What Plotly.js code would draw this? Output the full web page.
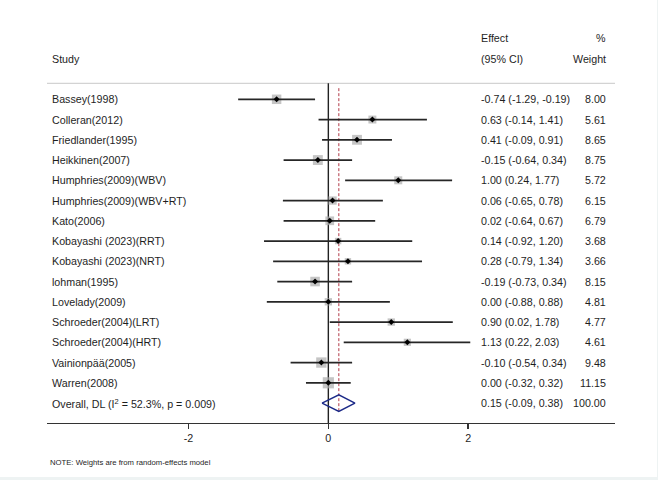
<!DOCTYPE html>
<html>
<head>
<meta charset="utf-8">
<script src="https://cdn.plot.ly/plotly-3.0.1.min.js"></script>
<style>
  html, body { margin: 0; padding: 0; background: #eef3f3; }
  #chart { width: 657px; height: 477px; background: #ffffff; }
</style>
</head>
<body>
<div id="chart"></div>
<script>
// Studies in the meta-analysis (top to bottom)
const studies = [
  "Bassey(1998)", "Colleran(2012)", "Friedlander(1995)", "Heikkinen(2007)",
  "Humphries(2009)(WBV)", "Humphries(2009)(WBV+RT)", "Kato(2006)",
  "Kobayashi (2023)(RRT)", "Kobayashi (2023)(NRT)", "lohman(1995)",
  "Lovelady(2009)", "Schroeder(2004)(LRT)", "Schroeder(2004)(HRT)",
  "Vainionpää(2005)", "Warren(2008)"
];
// Effect size and 95% CI bounds
const effect = [-0.74, 0.63, 0.41, -0.15, 1.00, 0.06, 0.02, 0.14, 0.28, -0.19, 0.00, 0.90, 1.13, -0.10, 0.00];
const ciLow  = [-1.29, -0.14, -0.09, -0.64, 0.24, -0.65, -0.64, -0.92, -0.79, -0.73, -0.88, 0.02, 0.22, -0.54, -0.32];
const ciHigh = [-0.19, 1.41, 0.91, 0.34, 1.77, 0.78, 0.67, 1.20, 1.34, 0.34, 0.88, 1.78, 2.03, 0.34, 0.32];
// Random-effects weights (%)
const weight = [8.00, 5.61, 8.65, 8.75, 5.72, 6.15, 6.79, 3.68, 3.66, 8.15, 4.81, 4.77, 4.61, 9.48, 11.15];

// Pooled estimate
const overallLabel = "Overall, DL (I<sup>2</sup> = 52.3%, p = 0.009)";
const overallEffect = 0.15;
const overallLow = -0.09;
const overallHigh = 0.38;
const overallWeight = 100.00;

// Axis ticks
const tickValues = [-2, 0, 2];
const tickLabels = ["-2", "0", "2"];

const TEXT = "#1e1e1e";
const FONT = "Liberation Sans, Arial, sans-serif";
const FS = 10.7;
const fmt = v => v.toFixed(2);

const rows = studies.map((_, i) => i);
const overallRow = studies.length;

// CI segments, one per study
const ciX = [], ciY = [];
rows.forEach(i => { ciX.push(ciLow[i], ciHigh[i], null); ciY.push(i, i, null); });

const traces = [
  { // weight boxes, area proportional to weight
    type: "scatter", mode: "markers", x: effect, y: rows,
    marker: { symbol: "square", size: weight.map(w => 3.35 * Math.sqrt(w)), color: "#adadad", line: { width: 0 } },
    hoverinfo: "skip"
  },
  { // confidence intervals
    type: "scatter", mode: "lines", x: ciX, y: ciY,
    line: { color: "#262626", width: 1.8 }, hoverinfo: "skip"
  },
  { // point estimates
    type: "scatter", mode: "markers", x: effect, y: rows,
    marker: { symbol: "diamond", size: 4.6, color: "#000000", line: { width: 0 } },
    hoverinfo: "skip"
  },
  { // pooled estimate diamond
    type: "scatter", mode: "lines",
    x: [overallLow, overallEffect, overallHigh, overallEffect, overallLow],
    y: [overallRow, overallRow - 0.41, overallRow, overallRow + 0.41, overallRow],
    line: { color: "#1c2a88", width: 1.5 }, hoverinfo: "skip"
  }
];

const ann = [];
const txt = (x, y, text, anchor, size, extra) => Object.assign({
  x, y, xref: "x", yref: "y", text, showarrow: false, xanchor: anchor, yanchor: "middle",
  font: { family: FONT, size: size || FS, color: TEXT }, borderpad: 0
}, extra || {});

// column headers
ann.push(txt(-3.967, -1.99, "Study", "left"));
ann.push(txt(2.17, -3.01, "Effect", "left"));
ann.push(txt(2.17, -1.99, "(95% CI)", "left"));
ann.push(txt(3.985, -3.01, "%", "right"));
ann.push(txt(3.985, -1.99, "Weight", "right"));

// study rows
rows.forEach(i => {
  ann.push(txt(-3.967, i, studies[i], "left"));
  ann.push(txt(2.17, i, `${fmt(effect[i])} (${fmt(ciLow[i])}, ${fmt(ciHigh[i])})`, "left"));
  ann.push(txt(3.985, i, fmt(weight[i]), "right"));
});
ann.push(txt(-3.967, overallRow, overallLabel, "left"));
ann.push(txt(2.17, overallRow, `${fmt(overallEffect)} (${fmt(overallLow)}, ${fmt(overallHigh)})`, "left"));
ann.push(txt(3.985, overallRow, fmt(overallWeight), "right"));

// footnote
ann.push({
  xref: "paper", yref: "paper", x: 0.003, y: -0.099, xanchor: "left", yanchor: "middle",
  text: "NOTE: Weights are from random-effects model", showarrow: false, borderpad: 0,
  font: { family: FONT, size: 7.7, color: TEXT }
});

const layout = {
  width: 657, height: 477,
  margin: { l: 47, r: 42, t: 20, b: 54 },
  paper_bgcolor: "#ffffff", plot_bgcolor: "#ffffff",
  showlegend: false, hovermode: false,
  xaxis: {
    range: [-4.024, 4.1], showgrid: false, zeroline: false,
    showline: true, linecolor: "#333333", linewidth: 1.4,
    ticks: "outside", ticklen: 5, tickwidth: 1.4, tickcolor: "#333333",
    tickvals: tickValues, ticktext: tickLabels,
    tickfont: { family: FONT, size: FS, color: TEXT }, fixedrange: true
  },
  yaxis: {
    range: [15.985, -3.916], visible: false, showgrid: false, zeroline: false, fixedrange: true
  },
  shapes: [
    { type: "line", xref: "paper", x0: 0, x1: 1, yref: "y", y0: -0.79, y1: -0.79,
      line: { color: "#c8c8c8", width: 1 }, layer: "below" },
    { type: "line", xref: "x", x0: 0, x1: 0, yref: "y", y0: -0.79, y1: 15.985,
      line: { color: "#222222", width: 1.4 }, layer: "below" },
    { type: "line", xref: "x", x0: overallEffect, x1: overallEffect, yref: "y", y0: -0.55, y1: overallRow + 0.41,
      line: { color: "#b23a48", width: 1, dash: "3px,2px" }, layer: "below" }
  ],
  annotations: ann
};

Plotly.newPlot("chart", traces, layout, { displayModeBar: false, staticPlot: true });
</script>
</body>
</html>
